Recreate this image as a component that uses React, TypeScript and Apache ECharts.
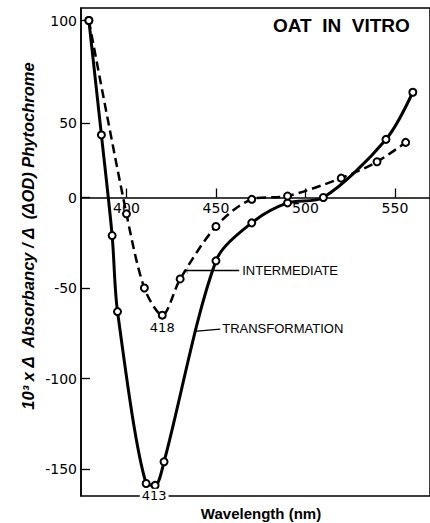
import React, { useEffect, useRef } from "react";
import * as echarts from "echarts";

// Wavelength (nm) and 10^3 x ΔAbsorbancy/Δ(ΔOD) values
const transformationWavelength = [379, 386, 392, 395, 411, 416, 421, 450, 470, 490, 510, 545, 560];
const transformationValues = [100, 42, -21, -63, -158, -159, -146, -35, -14, -3, 0, 39, 65];
const intermediateWavelength = [379, 400, 410, 420, 430, 450, 470, 490, 520, 540, 556];
const intermediateValues = [100, -9, -50, -65, -45, -16, -1, 1, 13, 24, 37];

const xTicks = [400, 450, 500, 550];
const yTicks = [100, 50, 0, -50, -100, -150];

// The original figure's y axis is not evenly spaced above zero:
// 0→50 is drawn shorter and 50→100 longer than the negative decades.
const PX_NEG = 1.81;
const PX_0_50 = 1.49;
const PX_50_100 = 2.05;
function toAxis(v: number): number {
  if (v <= 0) return v;
  if (v <= 50) return (v * PX_0_50) / PX_NEG;
  return (50 * PX_0_50) / PX_NEG + ((v - 50) * PX_50_100) / PX_NEG;
}

const Y_MIN = -164.9;
const Y_MAX = 104.7;
const GRID_TOP = 8;
const GRID_BOTTOM = 27;
const CHART_H = 523;

export default function App() {
  const ref = useRef<HTMLDivElement>(null);
  useEffect(() => {
    if (!ref.current) return;
    const chart = echarts.init(ref.current, undefined, { renderer: "svg" });
    const tickFont = "DejaVu Sans";
    const yTickAxis = yTicks.map(toAxis);
    const gridH = CHART_H - GRID_TOP - GRID_BOTTOM;
    // distance from the bottom of the grid up to the value 0
    const zeroOffset = (gridH * (0 - Y_MIN)) / (Y_MAX - Y_MIN);
    const option: any = {
      animation: false,
      backgroundColor: "#fff",
      grid: {
        left: 81,
        top: GRID_TOP,
        right: -2,
        bottom: GRID_BOTTOM,
        show: true,
        borderColor: "#000",
        borderWidth: 1.5,
        backgroundColor: "transparent",
      },
      xAxis: {
        type: "value",
        position: "bottom",
        offset: -zeroOffset,
        min: 374.6,
        max: 569.6,
        axisLine: { onZero: false, lineStyle: { color: "#000", width: 1.5 } },
        axisTick: { inside: true, length: 9, customValues: xTicks, lineStyle: { color: "#000", width: 1.3 } },
        axisLabel: {
          customValues: xTicks,
          margin: 3,
          color: "#000",
          fontSize: 14,
          fontFamily: tickFont,
          formatter: (v: number) => String(Math.round(v)),
        },
        splitLine: { show: false },
      },
      yAxis: {
        type: "value",
        min: Y_MIN,
        max: Y_MAX,
        axisLine: { show: true, onZero: false, lineStyle: { color: "#000", width: 1.5 } },
        axisTick: { show: true, inside: true, length: 9, customValues: yTickAxis, lineStyle: { color: "#000", width: 1.3 } },
        axisLabel: {
          customValues: yTickAxis,
          margin: 4,
          color: "#000",
          fontSize: 14,
          fontFamily: tickFont,
          formatter: (u: number) => {
            let best = yTicks[0];
            let d = Infinity;
            yTicks.forEach((t) => {
              const dd = Math.abs(toAxis(t) - u);
              if (dd < d) {
                d = dd;
                best = t;
              }
            });
            return String(best);
          },
        },
        splitLine: { show: false },
      },
      series: [
        {
          name: "Transformation",
          type: "line",
          data: transformationWavelength.map((x, i) => [x, toAxis(transformationValues[i])]),
          smooth: 0.3,
          symbol: "emptyCircle",
          symbolSize: 7,
          itemStyle: { color: "#000", borderWidth: 1.5 },
          lineStyle: { color: "#000", width: 3 },
          z: 3,
          markPoint: {
            symbol: "rect",
            symbolSize: 1,
            itemStyle: { color: "rgba(0,0,0,0)" },
            label: {
              show: true,
              position: "bottom",
              distance: 3,
              color: "#000",
              fontSize: 13,
              fontFamily: tickFont,
              backgroundColor: "#fff",
              padding: [0, 2],
              formatter: "413",
            },
            data: [{ coord: [415.5, toAxis(-159)] }],
          },
          markLine: {
            silent: true,
            symbol: ["arrow", "none"],
            symbolSize: [6, 1],
            lineStyle: { type: "solid", color: "#000", width: 1.3 },
            label: {
              show: true,
              position: "end",
              distance: 2,
              color: "#000",
              fontSize: 13,
              fontFamily: "Liberation Sans",
              formatter: "TRANSFORMATION",
            },
            data: [[{ coord: [437.9, -74.0] }, { coord: [452.4, -72.7] }]],
          },
        },
        {
          name: "Intermediate",
          type: "line",
          data: intermediateWavelength.map((x, i) => [x, toAxis(intermediateValues[i])]),
          smooth: 0.3,
          symbol: "emptyCircle",
          symbolSize: 7,
          itemStyle: { color: "#000", borderWidth: 1.5 },
          lineStyle: { color: "#000", width: 2.5, type: [9, 5] },
          z: 3,
          markPoint: {
            symbol: "rect",
            symbolSize: 1,
            itemStyle: { color: "rgba(0,0,0,0)" },
            label: {
              show: true,
              position: "bottom",
              distance: 5,
              color: "#000",
              fontSize: 13,
              fontFamily: tickFont,
              formatter: "418",
            },
            data: [{ coord: [420, toAxis(-65)] }],
          },
          markLine: {
            silent: true,
            symbol: ["arrow", "none"],
            symbolSize: [6, 1],
            lineStyle: { type: "solid", color: "#000", width: 1.3 },
            label: {
              show: true,
              position: "end",
              distance: 3,
              color: "#000",
              fontSize: 13,
              fontFamily: "Liberation Sans",
              formatter: "INTERMEDIATE",
            },
            data: [[{ coord: [433.5, -40.4] }, { coord: [463, -40.4] }]],
          },
        },
      ],
      graphic: [
        {
          type: "text",
          left: 273,
          top: 16,
          style: {
            text: "OAT  IN  VITRO",
            fill: "#000",
            font: "bold 19px 'Liberation Sans'",
          },
        },
        {
          type: "text",
          x: 28,
          y: 236,
          rotation: Math.PI / 2,
          style: {
            text: "10³ x Δ  Absorbancy / Δ  (ΔOD) Phytochrome",
            fill: "#000",
            font: "italic bold 16.5px 'Liberation Sans'",
            align: "center",
            verticalAlign: "middle",
          },
        },
        {
          type: "text",
          x: 261,
          y: 513,
          style: {
            text: "Wavelength (nm)",
            fill: "#000",
            font: "bold 15px 'Liberation Sans'",
            align: "center",
            verticalAlign: "middle",
          },
        },
      ],
    };
    chart.setOption(option);
    return () => chart.dispose();
  }, []);
  return (
    <div
      ref={ref}
      style={{ position: "fixed", left: 0, top: 0, width: 430, height: 523, background: "#fff" }}
    />
  );
}
